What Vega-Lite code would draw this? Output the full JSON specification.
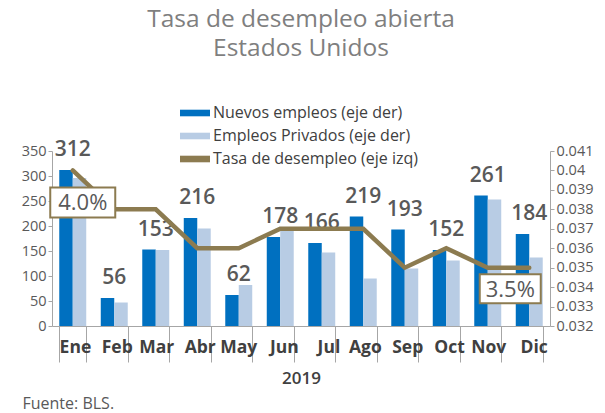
{
  "$schema": "https://vega.github.io/schema/vega-lite/v6.json",
  "width": 498,
  "height": 175,
  "autosize": {"type": "none"},
  "padding": {"left": 52, "top": 151, "right": 55, "bottom": 87},
  "background": "white",
  "title": {
    "text": ["Tasa de desempleo abierta", "Estados Unidos"],
    "anchor": "middle",
    "frame": "group",
    "fontSize": 24.5,
    "fontWeight": "normal",
    "font": "Open Sans",
    "color": "#7f7f7f",
    "lineHeight": 29,
    "offset": 37
  },
  "config": {
    "font": "Open Sans",
    "view": {"stroke": null}
  },
  "data": {
    "values": [
      {"mes": "Ene", "nuevos": 312, "privados": 296, "tasa": 0.040},
      {"mes": "Feb", "nuevos": 56, "privados": 47, "tasa": 0.038},
      {"mes": "Mar", "nuevos": 153, "privados": 152, "tasa": 0.038},
      {"mes": "Abr", "nuevos": 216, "privados": 195, "tasa": 0.036},
      {"mes": "May", "nuevos": 62, "privados": 82, "tasa": 0.036},
      {"mes": "Jun", "nuevos": 178, "privados": 193, "tasa": 0.037},
      {"mes": "Jul", "nuevos": 166, "privados": 147, "tasa": 0.037},
      {"mes": "Ago", "nuevos": 219, "privados": 95, "tasa": 0.037},
      {"mes": "Sep", "nuevos": 193, "privados": 115, "tasa": 0.035},
      {"mes": "Oct", "nuevos": 152, "privados": 131, "tasa": 0.036},
      {"mes": "Nov", "nuevos": 261, "privados": 253, "tasa": 0.035},
      {"mes": "Dic", "nuevos": 184, "privados": 137, "tasa": 0.035}
    ]
  },
  "layer": [
    {
      "layer": [
        {
          "transform": [
            {"fold": ["nuevos", "privados"], "as": ["k", "valor"]},
            {"lookup": "k", "from": {"data": {"values": [
              {"k": "nuevos", "serie": "Nuevos empleos (eje der)", "orden": 1},
              {"k": "privados", "serie": "Empleos Privados (eje der)", "orden": 2}
            ]}, "key": "k", "fields": ["serie", "orden"]}}
          ],
          "mark": {"type": "bar"},
          "encoding": {
            "x": {
              "field": "mes",
              "type": "nominal",
              "sort": null,
              "scale": {"paddingInner": 0.35, "paddingOuter": 0.175}
            },
            "xOffset": {"field": "orden", "type": "ordinal"},
            "y": {"field": "valor", "type": "quantitative"},
            "color": {
              "field": "serie",
              "type": "nominal",
              "scale": {
                "domain": ["Nuevos empleos (eje der)", "Empleos Privados (eje der)", "Tasa de desempleo (eje izq)"],
                "range": ["#0070C0", "#B8CCE4", "#8C7B50"]
              },
              "legend": {
                "orient": "none",
                "legendX": 128,
                "legendY": -53,
                "title": null,
                "symbolType": "M-1,-0.22H1V0.22H-1Z",
                "symbolSize": 900,
                "symbolStrokeWidth": 0,
                "labelFontSize": 16,
                "labelColor": "#404040",
                "labelFontWeight": 500,
                "labelOffset": 3,
                "labelLimit": 400,
                "rowPadding": -3
              }
            }
          }
        },
        {
          "mark": {"type": "text", "dy": -10, "baseline": "bottom", "fontSize": 21, "color": "#595959", "fontWeight": 600},
          "encoding": {
            "x": {
              "field": "mes",
              "type": "nominal",
              "sort": null,
              "axis": {
                "title": "2019",
                "titleFontSize": 17,
                "titleFontWeight": 600,
                "titleColor": "#404040",
                "titlePadding": 8,
                "labelAngle": 0,
                "labelFontSize": 17.5,
                "labelFontWeight": "bold",
                "labelColor": "#404040",
                "labelPadding": -24,
                "labelBaseline": "top",
                "labelOffset": 18,
                "ticks": true,
                "tickBand": "extent",
                "tickSize": 36,
                "tickColor": "#a6a6a6",
                "tickWidth": 1,
                "domain": true,
                "domainColor": "#a6a6a6",
                "domainWidth": 1,
                "zindex": 1
              }
            },
            "y": {"field": "nuevos", "type": "quantitative"},
            "text": {"field": "nuevos", "type": "quantitative"}
          }
        }
      ],
      "encoding": {
        "y": {
          "type": "quantitative",
          "scale": {"domain": [0, 350], "nice": false},
          "axis": {
            "values": [0, 50, 100, 150, 200, 250, 300, 350],
            "grid": false,
            "title": "Fuente: BLS.",
            "titleAngle": 0,
            "titleX": -30,
            "titleY": 257,
            "titleAlign": "left",
            "titleBaseline": "alphabetic",
            "titleFontSize": 16,
            "titleFontWeight": "normal",
            "titleColor": "#595959",
            "labelFontSize": 14.5,
            "labelColor": "#595959",
            "tickSize": 4,
            "tickColor": "#a6a6a6",
            "domainColor": "#a6a6a6"
          }
        }
      }
    },
    {
      "layer": [
        {
          "mark": {"type": "line", "strokeWidth": 4.5, "strokeCap": "round", "strokeJoin": "miter"},
          "encoding": {
            "x": {"field": "mes", "type": "nominal", "sort": null},
            "y": {"field": "tasa", "type": "quantitative"},
            "color": {"datum": "Tasa de desempleo (eje izq)"}
          }
        },
        {
          "transform": [{"filter": "datum.mes == 'Ene'"}],
          "mark": {"type": "point", "shape": "M-1,-0.46H1V0.46H-1Z", "size": 4225, "filled": false, "fill": "white", "fillOpacity": 1, "stroke": "#8C7B50", "strokeWidth": 2, "opacity": 1, "xOffset": 10, "yOffset": 32},
          "encoding": {
            "x": {"field": "mes", "type": "nominal", "sort": null},
            "y": {"field": "tasa", "type": "quantitative"}
          }
        },
        {
          "transform": [{"filter": "datum.mes == 'Ene'"}],
          "mark": {"type": "text", "fontSize": 22, "color": "#595959", "xOffset": 10, "yOffset": 33, "baseline": "middle"},
          "encoding": {
            "x": {"field": "mes", "type": "nominal", "sort": null},
            "y": {"field": "tasa", "type": "quantitative"},
            "text": {"field": "tasa", "type": "quantitative", "format": ".1%"}
          }
        },
        {
          "transform": [{"filter": "datum.mes == 'Dic'"}],
          "mark": {"type": "point", "shape": "M-1,-0.475H1V0.475H-1Z", "size": 3721, "filled": false, "fill": "white", "fillOpacity": 1, "stroke": "#8C7B50", "strokeWidth": 2, "opacity": 1, "xOffset": -19, "yOffset": 21},
          "encoding": {
            "x": {"field": "mes", "type": "nominal", "sort": null},
            "y": {"field": "tasa", "type": "quantitative"}
          }
        },
        {
          "transform": [{"filter": "datum.mes == 'Dic'"}],
          "mark": {"type": "text", "fontSize": 22, "color": "#595959", "xOffset": -19, "yOffset": 22, "baseline": "middle"},
          "encoding": {
            "x": {"field": "mes", "type": "nominal", "sort": null},
            "y": {"field": "tasa", "type": "quantitative"},
            "text": {"field": "tasa", "type": "quantitative", "format": ".1%"}
          }
        }
      ],
      "encoding": {
        "y": {
          "type": "quantitative",
          "scale": {"domain": [0.032, 0.041], "nice": false, "zero": false},
          "axis": {
            "orient": "right",
            "values": [0.032, 0.033, 0.034, 0.035, 0.036, 0.037, 0.038, 0.039, 0.04, 0.041],
            "format": ".3~f",
            "grid": false,
            "title": null,
            "labelFontSize": 14.5,
            "labelColor": "#595959",
            "tickSize": 4,
            "tickColor": "#a6a6a6",
            "domainColor": "#a6a6a6"
          }
        }
      }
    }
  ],
  "resolve": {"scale": {"y": "independent"}}
}
